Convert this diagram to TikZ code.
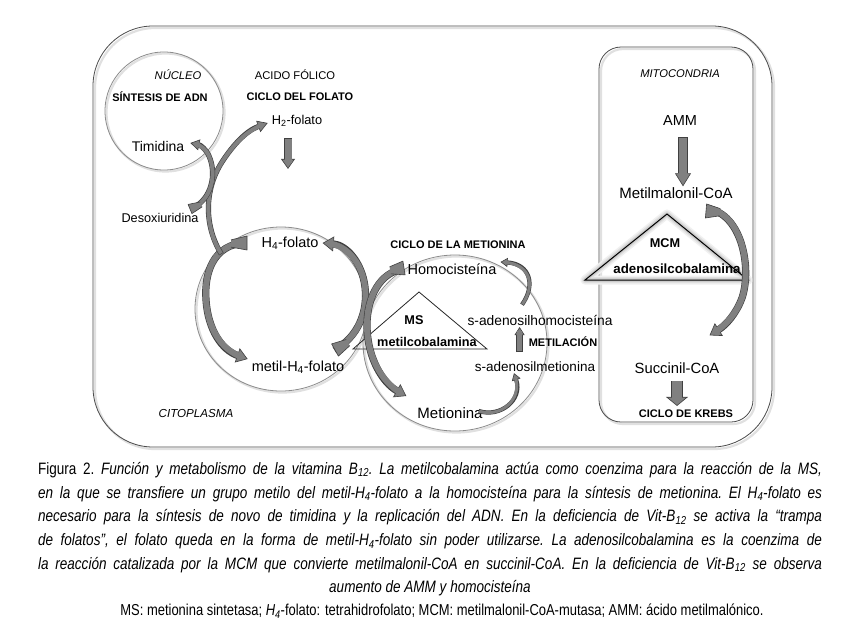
\documentclass[tikz,border=0pt]{standalone}
\usepackage{fontspec}
\setmainfont{Liberation Sans}
\setsansfont{Liberation Sans}
\usepackage{graphicx}
\usepackage{tikz}
\usetikzlibrary{arrows.meta,calc,positioning}
\newcommand\capset{\fontsize{16.5}{23.7}\selectfont\frenchspacing\spaceskip=0.278em plus 1fil\relax}
\newcommand\capline[1]{\hbox to 956pt{#1}}

\begin{document}
\begin{tikzpicture}[x=1pt,y=-1pt,
  lbl/.style={inner sep=1pt,font=\fontsize{14.5}{16}\selectfont},
  lbs/.style={inner sep=1pt,font=\fontsize{13}{15}\selectfont},
  hdr/.style={inner sep=1pt,font=\bfseries\fontsize{11}{13}\selectfont},
  tag/.style={inner sep=1pt,font=\itshape\fontsize{11.2}{13}\selectfont},
  enz/.style={inner sep=1pt,font=\bfseries\fontsize{12.7}{14}\selectfont},
  cell/.style={draw=black!70,line width=0.8pt},
  shade/.style={draw=black!12,line width=2.2pt},
  ring/.style={draw=black!45,line width=0.8pt},
  fat/.style n args={3}{draw=black!75,line width=#1pt+1.2pt,
    -{Triangle[length=#2pt,width=#3pt,fill=black!50,line width=0.6pt]},
    postaction={draw=black!50,line width=#1pt,-,shorten >=#2*0.55pt,shorten <=0.6pt}},
  ribbon/.style={fill=black!50,draw=black!75,line width=0.6pt,line join=round}]

  \fill[white] (0,0) rectangle (859,627);
  \useasboundingbox (0,0) rectangle (859,627);

  % compartments
  \draw[shade,rounded corners=60pt] (95,28) rectangle (774,449);
  \draw[cell,rounded corners=60pt] (93,26) rectangle (772,447);
  \draw[shade,rounded corners=22pt] (601,49) rectangle (755,424);
  \draw[cell,rounded corners=22pt] (599,47) rectangle (753,422);

  % cycles
  \draw[shade] (165.5,112.5) circle [radius=59pt];
  \draw[ring] (164,111) circle [radius=59pt];
  \draw[shade] (282.5,310.5) circle [x radius=86pt,y radius=82pt];
  \draw[ring] (281,309) circle [x radius=86pt,y radius=82pt];
  \draw[shade] (456.5,344.5) circle [x radius=92pt,y radius=88pt];
  \draw[ring] (455,343) circle [x radius=92pt,y radius=88pt];

  % enzymes
  \draw[black!85,line width=0.8pt] (419,292) -- (487,349) -- (353,349) -- cycle;
  \foreach \w/\c in {9/6,6/12,3.5/20}
    \draw[black!\c,line width=\w pt,line join=round] (667,214) -- (748,280) -- (585,280) -- cycle;
  \draw[black,line width=1pt] (667,214) -- (748,280) -- (585,280) -- cycle;

  % labels
  \node[tag] (nucleo) at (178,75) {NÚCLEO};
  \node[hdr] (sintesis) at (160,97) {SÍNTESIS DE ADN};
  \node[inner sep=1pt,font=\fontsize{11.2}{13}\selectfont] (acido) at (295,75) {ACIDO FÓLICO};
  \node[hdr] (ciclofol) at (300,97) {CICLO DEL FOLATO};
  \node[inner sep=1pt,font=\fontsize{12.8}{14}\selectfont] (h2) at (297,121) {H\textsubscript{2}-folato};
  \node[lbl,font=\fontsize{14}{16}\selectfont] (timidina) at (158,146) {Timidina};
  \node[lbs,font=\fontsize{12.7}{14}\selectfont] (desox) at (160,218) {Desoxiuridina};
  \node[lbl] (h4) at (290,243) {H\textsubscript{4}-folato};
  \node[lbl] (metil) at (298,367) {metil-H\textsubscript{4}-folato};
  \node[tag,font=\itshape\fontsize{11.6}{13}\selectfont] (citoplasma) at (196,413) {CITOPLASMA};

  \node[hdr] (ciclomet) at (458,245) {CICLO DE LA METIONINA};
  \node[lbl] (homo) at (452,269) {Homocisteína};
  \node[lbs,font=\fontsize{13.8}{15}\selectfont] (sahc) at (540,320) {s-adenosilhomocisteína};
  \node[hdr] (metilacion) at (563,342) {METILACIÓN};
  \node[lbs,font=\fontsize{13.5}{15}\selectfont] (sam) at (535,367) {s-adenosilmetionina};
  \node[lbl,font=\fontsize{15}{16}\selectfont] (metionina) at (450,413) {Metionina};
  \node[enz] (ms) at (414,320) {MS};
  \node[enz] (metilcob) at (427,342) {metilcobalamina};

  \node[tag] (mito) at (680,74) {MITOCONDRIA};
  \node[lbl] (amm) at (680,121) {AMM};
  \node[lbl,font=\fontsize{15}{16}\selectfont] (mmcoa) at (676,193) {Metilmalonil-CoA};
  \node[enz] (mcm) at (665,243) {MCM};
  \node[enz,font=\bfseries\fontsize{13.3}{15}\selectfont] (adocob) at (677,269) {adenosilcobalamina};
  \node[lbl,font=\fontsize{14.8}{16}\selectfont] (succ) at (677,368) {Succinil-CoA};
  \node[hdr] (krebs) at (686,414) {CICLO DE KREBS};

  % folate cycle
  \draw[fat={6}{11}{15}] ($(h4.west)+(-15,0)$) .. controls (214,244) and (204,272) .. (206,300)
    .. controls (208,330) and (222,350) .. ($(metil.west)+(-3,-8)$);
  \draw[fat={6}{11}{15}] ($(metil.east)+(-11,-17)$) .. controls (358,337) and (368,312) .. (365,287)
    .. controls (362,262) and (346,245) .. ($(h4.east)+(3,0)$);
  \draw[fat={4}{10}{12}] ($(h4.west)+(-39,11)$) .. controls (204,226) and (204,190) .. (222,162)
    .. controls (233,145) and (246,131) .. ($(h2.west)+(-3,2)$);
  \draw[fat={4}{9}{11}] ($(desox.east)+(-9,-9)$) .. controls (212,200) and (217,174) .. (209,156)
    .. controls (206,149) and (200,145) .. ($(timidina.east)+(5,-3)$);
  \draw[fat={7}{10}{14}] ($(h2.south)+(-9,10)$) -- ($(h2.south)+(-9,41)$);

  % methionine cycle
  \draw[fat={6}{11}{15}] ($(homo.west)+(-3,0)$) .. controls (380,272) and (367,297) .. (367,325)
    .. controls (367,358) and (383,383) .. ($(metionina.west)+(-10,-17)$);
  \draw[fat={3}{7}{9}] ($(sahc.north)+(-18,-9)$) .. controls (536,285) and (530,264) .. ($(homo.east)+(3,-7)$);
  \draw[fat={3}{7}{9}] ($(metionina.east)+(-5,-2)$) .. controls (500,418) and (523,400) .. ($(sam.south)+(-21,0)$);
  \draw[fat={5}{8}{10}] ($(metilacion.west)+(-8,10)$) -- ($(metilacion.west)+(-8,-15)$);

  % mitochondria
  \draw[fat={8}{13}{16}] ($(amm.south)+(3,10)$) -- ($(mmcoa.north)+(7,0)$);
  \draw[fat={6}{11}{15}] ($(mmcoa.south east)+(-26,9)$) .. controls (742,214) and (752,268) .. (742,298)
    .. controls (736,314) and (726,325) .. ($(succ.north east)+(-11,-26)$);
  \draw[fat={10}{9}{22}] ($(succ.south)+(0,6)$) -- ($(krebs.north)+(-9,-3)$);

  % wide ribbon tails
  \filldraw[ribbon] (231,239.9) -- (247,236) -- (247,250) -- (231,247.1);
  \filldraw[ribbon] (346.2,339.5) -- (331.6,343.9) -- (338.4,356.1) -- (349.8,345.7);
  \filldraw[ribbon] (200.2,202) -- (188.1,204.4) -- (191.9,213.6) -- (202.2,206.8);
  \filldraw[ribbon] (389.6,266.8) -- (402.9,261.1) -- (405.1,274.9) -- (390.8,273.8);
  \filldraw[ribbon] (720.3,208.6) -- (706.6,204) -- (705.4,218) -- (719.7,215.8);

  % caption
  \node[anchor=north,inner sep=0pt] (caption) at (430,462) {\scalebox{0.82}[1]{\vbox{\capset
    \capline{Figura 2. \textit{Función y metabolismo de la vitamina B\textsubscript{12}. La metilcobalamina actúa como coenzima para la reacción de la MS,}}
    \capline{\textit{en la que se transfiere un grupo metilo del metil-H\textsubscript{4}-folato a la homocisteína para la síntesis de metionina. El H\textsubscript{4}-folato es}}
    \capline{\textit{necesario para la síntesis de novo de timidina y la replicación del ADN. En la deficiencia de Vit-B\textsubscript{12} se activa la “trampa}}
    \capline{\textit{de folatos”, el folato queda en la forma de metil-H\textsubscript{4}-folato sin poder utilizarse. La adenosilcobalamina es la coenzima de}}
    \capline{\textit{la reacción catalizada por la MCM que convierte metilmalonil-CoA en succinil-CoA. En la deficiencia de Vit-B\textsubscript{12} se observa}}
    \capline{\hfill\textit{aumento de AMM y homocisteína}\hfill}}}};
  \node[inner sep=0pt] (notes) at (442,611)
    {\scalebox{0.82}[1]{\fontsize{15.8}{18}\selectfont MS: metionina sintetasa; \textit{H\textsubscript{4}}-folato: tetrahidrofolato; MCM: metilmalonil-CoA-mutasa; AMM: ácido metilmalónico.}};
\end{tikzpicture}
\end{document}
